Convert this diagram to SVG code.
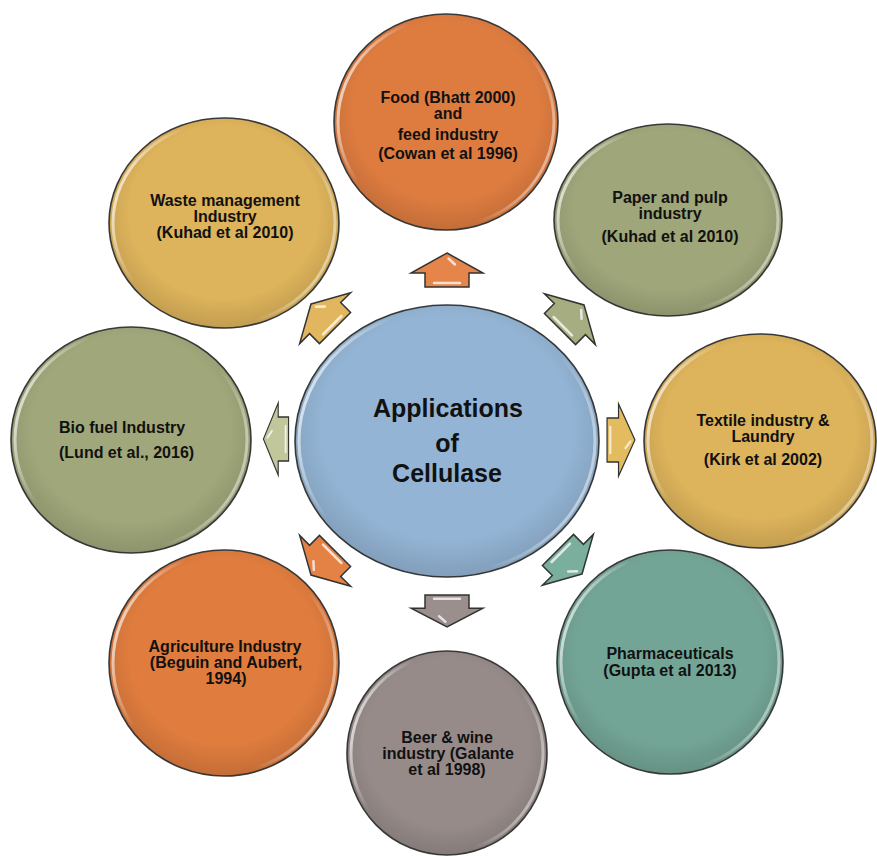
<svg xmlns="http://www.w3.org/2000/svg" width="877" height="856" viewBox="0 0 877 856">
  <style>
    .ring { stroke: #3a3a3a; stroke-width: 1.6; }
    .rim { fill: none; stroke: url(#rimGrad); stroke-width: 3; }
    .shade { fill: url(#shadeGrad); stroke: none; }
    .lbl { font-family: "Liberation Sans", Arial, sans-serif; font-weight: bold; font-size: 16px; fill: #111; text-anchor: middle; }
    .left { text-anchor: start; }
    .title { font-size: 25px; }
    .arrow { stroke: #333; stroke-width: 1.5; stroke-linejoin: miter; }
    .gloss { fill: none; stroke: #fff; stroke-opacity: 0.75; stroke-width: 2.5; stroke-linecap: round; }
  </style>
  <defs>
    <linearGradient id="rimGrad" x1="0" y1="0.2" x2="1" y2="0.5">
      <stop offset="0" stop-color="#fff" stop-opacity="0.85"/>
      <stop offset="0.25" stop-color="#fff" stop-opacity="0"/>
      <stop offset="0.8" stop-color="#fff" stop-opacity="0"/>
      <stop offset="1" stop-color="#fff" stop-opacity="0.45"/>
    </linearGradient>
    <radialGradient id="shadeGrad" cx="0.5" cy="0.45" r="0.55">
      <stop offset="0.75" stop-color="#000" stop-opacity="0"/>
      <stop offset="1" stop-color="#000" stop-opacity="0.12"/>
    </radialGradient>
    <!-- block arrow pointing up, centred on the origin -->
    <path id="arrowShape" d="M0,-17 L36,3 L22,3 L22,17 L-22,17 L-22,3 L-36,3 Z"/>
    <g id="arrowGloss">
      <path d="M1.5,-11.5 L8,-5.5"/>
      <path d="M-13,13 L13,13"/>
    </g>
  </defs>

  <rect width="877" height="856" fill="#fff"/>

  <!-- arrows radiating from the centre -->
  <g id="connectors">
    <g transform="translate(447,270)">
      <use href="#arrowShape" class="arrow" fill="#E5854A"/><use href="#arrowGloss" class="gloss"/>
    </g>
    <g transform="translate(572,317) rotate(45)">
      <use href="#arrowShape" class="arrow" fill="#A6AD80"/><use href="#arrowGloss" class="gloss"/>
    </g>
    <g transform="translate(621,440) rotate(90) scale(1,0.82)">
      <use href="#arrowShape" class="arrow" fill="#E3BC60"/><use href="#arrowGloss" class="gloss"/>
    </g>
    <g transform="translate(570,562) rotate(135)">
      <use href="#arrowShape" class="arrow" fill="#7AAE9D"/><use href="#arrowGloss" class="gloss"/>
    </g>
    <g transform="translate(447,611) rotate(180) scale(1,0.94)">
      <use href="#arrowShape" class="arrow" fill="#9A8F8D"/><use href="#arrowGloss" class="gloss"/>
    </g>
    <g transform="translate(323,563) rotate(225)">
      <use href="#arrowShape" class="arrow" fill="#E38244"/><use href="#arrowGloss" class="gloss"/>
    </g>
    <g transform="translate(276,439) rotate(270) scale(1,0.74)">
      <use href="#arrowShape" class="arrow" fill="#C2C79B"/><use href="#arrowGloss" class="gloss"/>
    </g>
    <g transform="translate(323,316) rotate(315)">
      <use href="#arrowShape" class="arrow" fill="#E2B65E"/><use href="#arrowGloss" class="gloss"/>
    </g>
  </g>

  <g id="centre">
    <ellipse cx="447" cy="441" rx="152" ry="136" fill="#93B4D4" class="ring"/>
    <ellipse cx="447" cy="441" rx="152" ry="136" class="shade"/>
    <ellipse cx="447" cy="441" rx="148" ry="132" class="rim"/>
    <text class="lbl title"><tspan x="448" y="417">Applications</tspan><tspan x="447" y="452">of</tspan><tspan x="447" y="482">Cellulase</tspan></text>
  </g>

  <g id="food">
    <ellipse cx="446" cy="122" rx="112" ry="108" fill="#DE7C40" class="ring"/>
    <ellipse cx="446" cy="122" rx="112" ry="108" class="shade"/>
    <ellipse cx="446" cy="122" rx="108" ry="104" class="rim"/>
    <text class="lbl"><tspan x="448" y="103">Food (Bhatt 2000)</tspan><tspan x="448" y="119">and</tspan><tspan x="448" y="140">feed industry</tspan><tspan x="448" y="159">(Cowan et al 1996)</tspan></text>
  </g>

  <g id="paper">
    <ellipse cx="668" cy="220" rx="114" ry="96" fill="#9FA67A" class="ring"/>
    <ellipse cx="668" cy="220" rx="114" ry="96" class="shade"/>
    <ellipse cx="668" cy="220" rx="110" ry="92" class="rim"/>
    <text class="lbl"><tspan x="670" y="203">Paper and pulp</tspan><tspan x="670" y="219">industry</tspan><tspan x="670" y="242">(Kuhad et al 2010)</tspan></text>
  </g>

  <g id="textile">
    <ellipse cx="760" cy="441" rx="116" ry="107" fill="#DDB35B" class="ring"/>
    <ellipse cx="760" cy="441" rx="116" ry="107" class="shade"/>
    <ellipse cx="760" cy="441" rx="112" ry="103" class="rim"/>
    <text class="lbl"><tspan x="763" y="426">Textile industry &amp;</tspan><tspan x="763" y="442">Laundry</tspan><tspan x="763" y="465">(Kirk et al 2002)</tspan></text>
  </g>

  <g id="pharma">
    <ellipse cx="670" cy="662" rx="113" ry="112" fill="#73A596" class="ring"/>
    <ellipse cx="670" cy="662" rx="113" ry="112" class="shade"/>
    <ellipse cx="670" cy="662" rx="109" ry="108" class="rim"/>
    <text class="lbl"><tspan x="670" y="659">Pharmaceuticals</tspan><tspan x="670" y="676">(Gupta et al  2013)</tspan></text>
  </g>

  <g id="beer">
    <ellipse cx="447" cy="753" rx="100" ry="102" fill="#968B89" class="ring"/>
    <ellipse cx="447" cy="753" rx="100" ry="102" class="shade"/>
    <ellipse cx="447" cy="753" rx="96" ry="98" class="rim"/>
    <text class="lbl"><tspan x="447" y="743">Beer &amp; wine</tspan><tspan x="448" y="759">industry (Galante</tspan><tspan x="447" y="775">et al 1998)</tspan></text>
  </g>

  <g id="agriculture">
    <ellipse cx="224" cy="663" rx="115" ry="113" fill="#DF7C3E" class="ring"/>
    <ellipse cx="224" cy="663" rx="115" ry="113" class="shade"/>
    <ellipse cx="224" cy="663" rx="111" ry="109" class="rim"/>
    <text class="lbl"><tspan x="225" y="652">Agriculture Industry</tspan><tspan x="226" y="668">(Beguin and Aubert,</tspan><tspan x="226" y="684">1994)</tspan></text>
  </g>

  <g id="biofuel">
    <ellipse cx="131" cy="440" rx="120" ry="113" fill="#A0A77A" class="ring"/>
    <ellipse cx="131" cy="440" rx="120" ry="113" class="shade"/>
    <ellipse cx="131" cy="440" rx="116" ry="109" class="rim"/>
    <text class="lbl left"><tspan x="59" y="433">Bio fuel Industry</tspan><tspan x="59" y="458">(Lund et al., 2016)</tspan></text>
  </g>

  <g id="waste">
    <ellipse cx="224" cy="223" rx="115" ry="105" fill="#DDB35B" class="ring"/>
    <ellipse cx="224" cy="223" rx="115" ry="105" class="shade"/>
    <ellipse cx="224" cy="223" rx="111" ry="101" class="rim"/>
    <text class="lbl"><tspan x="225" y="206">Waste management</tspan><tspan x="225" y="222">Industry</tspan><tspan x="225" y="238">(Kuhad et al 2010)</tspan></text>
  </g>
</svg>
